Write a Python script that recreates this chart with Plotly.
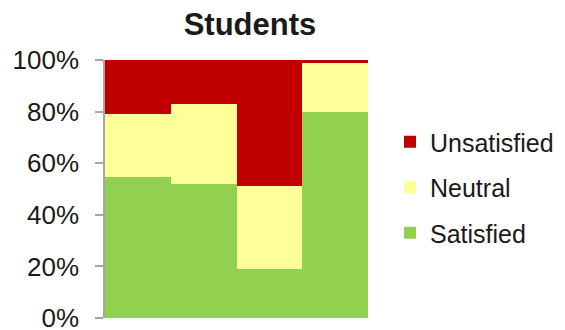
import plotly.graph_objects as go

# Survey groups along the x axis (labels are hidden on the chart)
groups = ["Group 1", "Group 2", "Group 3", "Group 4"]

# Share of responses per group, in percent
satisfied = [54.5, 52, 19, 80]
neutral = [24.5, 31, 32, 19]
unsatisfied = [21, 17, 49, 1]

y_ticks = [0, 20, 40, 60, 80, 100]
y_tick_labels = [f"{v}%" for v in y_ticks]

# (name, values, colour, legend rank) - stacked bottom to top
series = [
    ("Satisfied", satisfied, "#92D050", 3),
    ("Neutral", neutral, "#FFFF99", 2),
    ("Unsatisfied", unsatisfied, "#C00000", 1),
]

fig = go.Figure()
for name, vals, color, rank in series:
    fig.add_trace(go.Bar(
        x=groups, y=vals, name=name, legendgroup=name, legendrank=rank,
        marker=dict(color=color, line=dict(width=0)),
    ))

font_family = "Liberation Sans, Arial, sans-serif"

fig.update_layout(
    width=565, height=330,
    margin=dict(l=105, r=197, t=60, b=12, autoexpand=False),
    barmode="stack", bargap=0,
    plot_bgcolor="white", paper_bgcolor="white",
    font=dict(family=font_family, size=25, color="#1a1a1a"),
    title=dict(text="<b>Students</b>", x=250 / 565, xanchor="center",
               y=1 - 24 / 330, yanchor="middle",
               font=dict(size=31, color="#1a1a1a")),
    xaxis=dict(showticklabels=False, showline=False, showgrid=False, ticks="",
               zeroline=False, automargin=False),
    yaxis=dict(range=[0, 100], tickvals=y_ticks, ticktext=y_tick_labels,
               showgrid=False, zeroline=False, automargin=False,
               showline=True, linecolor="#A6A6A6", linewidth=1.5,
               ticks="outside", ticklen=8, tickcolor="#A6A6A6", tickwidth=1.5,
               ticklabelstandoff=11, ticklabeloverflow="allow",
               tickfont=dict(size=26)),
    legend=dict(x=(390 - 105) / 263, xanchor="left", y=(318 - 119) / 258, yanchor="top",
                traceorder="grouped", tracegroupgap=10,
                font=dict(size=25, color="#1a1a1a"), bgcolor="rgba(0,0,0,0)"),
    showlegend=True,
)

fig.write_html("out.html")
